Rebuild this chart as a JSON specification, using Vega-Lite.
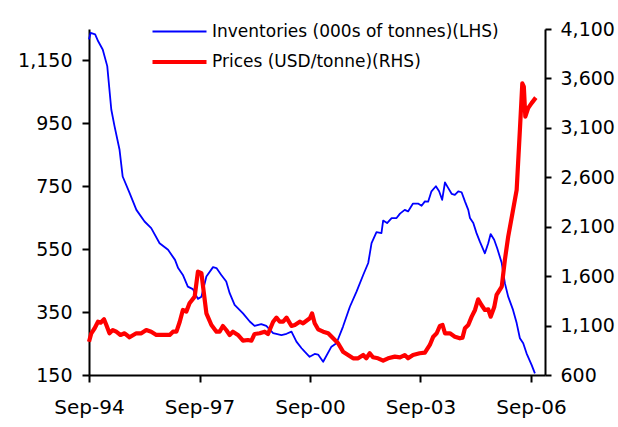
{
  "$schema": "https://vega.github.io/schema/vega-lite/v6.json",
  "width": 456,
  "height": 346,
  "autosize": {"type": "none"},
  "padding": {"left": 89, "top": 29, "right": 73, "bottom": 52},
  "background": "white",
  "config": {
    "view": {"stroke": null},
    "font": "DejaVu Sans",
    "axis": {
      "grid": false,
      "domainColor": "black",
      "domainWidth": 2,
      "tickColor": "black",
      "tickWidth": 2,
      "labelColor": "black",
      "labelFont": "DejaVu Sans",
      "title": null
    },
    "legend": {
      "orient": "none",
      "legendX": 79,
      "legendY": -7.5,
      "padding": 0,
      "symbolType": "M-3,0H3",
      "symbolSize": 324,
      "labelOffset": 21,
      "labelFontSize": 17,
      "labelFont": "DejaVu Sans",
      "labelColor": "black",
      "rowPadding": 11,
      "labelLimit": 400
    }
  },
  "datasets": {
    "inv": [
      {"d": "1994-09-01", "v": 1217}, {"d": "1994-09-17", "v": 1238}, {"d": "1994-11-01", "v": 1233},
      {"d": "1994-12-01", "v": 1211}, {"d": "1995-01-15", "v": 1185}, {"d": "1995-03-01", "v": 1132},
      {"d": "1995-04-10", "v": 994}, {"d": "1995-05-12", "v": 941}, {"d": "1995-07-01", "v": 866},
      {"d": "1995-08-01", "v": 781}, {"d": "1995-10-08", "v": 729}, {"d": "1995-12-15", "v": 675},
      {"d": "1996-03-05", "v": 638}, {"d": "1996-05-10", "v": 617}, {"d": "1996-08-01", "v": 569},
      {"d": "1996-10-24", "v": 548}, {"d": "1997-01-01", "v": 516}, {"d": "1997-02-01", "v": 490},
      {"d": "1997-03-20", "v": 468}, {"d": "1997-05-08", "v": 431}, {"d": "1997-06-27", "v": 423},
      {"d": "1997-08-16", "v": 392}, {"d": "1997-09-20", "v": 399}, {"d": "1997-11-08", "v": 463},
      {"d": "1998-01-13", "v": 493}, {"d": "1998-02-16", "v": 490}, {"d": "1998-04-05", "v": 468},
      {"d": "1998-05-24", "v": 447}, {"d": "1998-06-27", "v": 410}, {"d": "1998-08-15", "v": 373},
      {"d": "1998-11-06", "v": 346}, {"d": "1999-01-12", "v": 320}, {"d": "1999-03-01", "v": 306},
      {"d": "1999-05-06", "v": 312}, {"d": "1999-06-25", "v": 306}, {"d": "1999-09-01", "v": 283},
      {"d": "1999-11-22", "v": 277}, {"d": "2000-01-12", "v": 281}, {"d": "2000-03-01", "v": 288},
      {"d": "2000-04-19", "v": 256}, {"d": "2000-06-09", "v": 235}, {"d": "2000-07-10", "v": 224},
      {"d": "2000-08-28", "v": 208}, {"d": "2000-10-17", "v": 217}, {"d": "2000-11-20", "v": 215},
      {"d": "2001-01-09", "v": 192}, {"d": "2001-04-01", "v": 240}, {"d": "2001-05-21", "v": 251},
      {"d": "2001-07-25", "v": 304}, {"d": "2001-10-01", "v": 367}, {"d": "2001-12-06", "v": 415},
      {"d": "2002-02-10", "v": 468}, {"d": "2002-04-01", "v": 506}, {"d": "2002-05-04", "v": 569},
      {"d": "2002-06-22", "v": 604}, {"d": "2002-08-10", "v": 601}, {"d": "2002-08-27", "v": 641},
      {"d": "2002-10-05", "v": 633}, {"d": "2002-11-19", "v": 649}, {"d": "2003-01-07", "v": 649},
      {"d": "2003-02-10", "v": 663}, {"d": "2003-03-29", "v": 675}, {"d": "2003-05-01", "v": 670},
      {"d": "2003-06-19", "v": 695}, {"d": "2003-08-08", "v": 695}, {"d": "2003-09-12", "v": 688},
      {"d": "2003-10-15", "v": 702}, {"d": "2003-11-16", "v": 701}, {"d": "2003-12-19", "v": 734},
      {"d": "2004-02-01", "v": 750}, {"d": "2004-03-04", "v": 734}, {"d": "2004-04-03", "v": 707},
      {"d": "2004-05-01", "v": 762}, {"d": "2004-06-03", "v": 744}, {"d": "2004-07-06", "v": 726},
      {"d": "2004-08-07", "v": 723}, {"d": "2004-09-10", "v": 734}, {"d": "2004-10-13", "v": 731},
      {"d": "2004-11-15", "v": 702}, {"d": "2004-12-18", "v": 675}, {"d": "2005-01-04", "v": 649},
      {"d": "2005-02-06", "v": 633}, {"d": "2005-03-10", "v": 601}, {"d": "2005-04-12", "v": 574},
      {"d": "2005-06-01", "v": 537}, {"d": "2005-07-04", "v": 569}, {"d": "2005-07-28", "v": 598},
      {"d": "2005-09-01", "v": 580}, {"d": "2005-10-01", "v": 553}, {"d": "2005-11-15", "v": 506},
      {"d": "2005-12-16", "v": 442}, {"d": "2006-01-18", "v": 399}, {"d": "2006-03-07", "v": 357},
      {"d": "2006-04-12", "v": 315}, {"d": "2006-05-14", "v": 267}, {"d": "2006-06-16", "v": 251},
      {"d": "2006-07-19", "v": 219}, {"d": "2006-09-07", "v": 182}, {"d": "2006-10-10", "v": 155}
    ],
    "px": [
      {"d": "1994-09-01", "v": 937}, {"d": "1994-09-24", "v": 1022}, {"d": "1994-10-27", "v": 1073},
      {"d": "1994-11-29", "v": 1139}, {"d": "1994-12-25", "v": 1129}, {"d": "1995-01-28", "v": 1164},
      {"d": "1995-02-20", "v": 1106}, {"d": "1995-03-23", "v": 1022}, {"d": "1995-04-25", "v": 1055},
      {"d": "1995-05-29", "v": 1038}, {"d": "1995-07-10", "v": 1005}, {"d": "1995-08-20", "v": 1022},
      {"d": "1995-10-08", "v": 982}, {"d": "1995-12-14", "v": 1022}, {"d": "1996-02-02", "v": 1022},
      {"d": "1996-03-22", "v": 1055}, {"d": "1996-05-10", "v": 1038}, {"d": "1996-06-30", "v": 1005},
      {"d": "1996-09-21", "v": 1005}, {"d": "1996-11-09", "v": 1005}, {"d": "1996-12-12", "v": 1038},
      {"d": "1997-01-15", "v": 1038}, {"d": "1997-02-17", "v": 1139}, {"d": "1997-03-20", "v": 1258},
      {"d": "1997-04-23", "v": 1241}, {"d": "1997-05-25", "v": 1325}, {"d": "1997-07-15", "v": 1393},
      {"d": "1997-08-16", "v": 1645}, {"d": "1997-09-20", "v": 1629}, {"d": "1997-10-06", "v": 1494},
      {"d": "1997-11-08", "v": 1224}, {"d": "1997-12-28", "v": 1106}, {"d": "1998-02-16", "v": 1038},
      {"d": "1998-03-19", "v": 1038}, {"d": "1998-04-21", "v": 1096}, {"d": "1998-05-24", "v": 1055},
      {"d": "1998-06-27", "v": 1005}, {"d": "1998-07-29", "v": 1038}, {"d": "1998-09-17", "v": 1005},
      {"d": "1998-11-06", "v": 947}, {"d": "1998-12-25", "v": 954}, {"d": "1999-01-29", "v": 947},
      {"d": "1999-03-01", "v": 1015}, {"d": "1999-04-21", "v": 1022}, {"d": "1999-06-09", "v": 1038},
      {"d": "1999-07-12", "v": 1015}, {"d": "1999-09-01", "v": 1139}, {"d": "1999-10-04", "v": 1180},
      {"d": "1999-11-06", "v": 1139}, {"d": "1999-12-09", "v": 1139}, {"d": "2000-01-12", "v": 1180},
      {"d": "2000-03-01", "v": 1096}, {"d": "2000-04-03", "v": 1106}, {"d": "2000-05-22", "v": 1139},
      {"d": "2000-06-24", "v": 1123}, {"d": "2000-08-30", "v": 1174}, {"d": "2000-09-21", "v": 1224},
      {"d": "2000-10-17", "v": 1123}, {"d": "2000-11-20", "v": 1062}, {"d": "2001-01-09", "v": 1038},
      {"d": "2001-02-28", "v": 1022}, {"d": "2001-04-18", "v": 971}, {"d": "2001-06-06", "v": 921},
      {"d": "2001-07-25", "v": 836}, {"d": "2001-09-13", "v": 802}, {"d": "2001-11-02", "v": 769},
      {"d": "2001-12-22", "v": 769}, {"d": "2002-02-10", "v": 802}, {"d": "2002-03-13", "v": 769},
      {"d": "2002-04-16", "v": 820}, {"d": "2002-05-18", "v": 779}, {"d": "2002-07-07", "v": 769},
      {"d": "2002-08-27", "v": 745}, {"d": "2002-10-15", "v": 769}, {"d": "2002-12-21", "v": 786},
      {"d": "2003-02-10", "v": 779}, {"d": "2003-03-29", "v": 802}, {"d": "2003-05-01", "v": 769},
      {"d": "2003-06-19", "v": 802}, {"d": "2003-08-24", "v": 820}, {"d": "2003-10-15", "v": 826},
      {"d": "2003-12-03", "v": 904}, {"d": "2004-01-06", "v": 988}, {"d": "2004-02-09", "v": 1022},
      {"d": "2004-03-11", "v": 1096}, {"d": "2004-04-07", "v": 1106}, {"d": "2004-05-01", "v": 1022},
      {"d": "2004-06-19", "v": 1022}, {"d": "2004-08-07", "v": 988}, {"d": "2004-09-26", "v": 971},
      {"d": "2004-10-22", "v": 978}, {"d": "2004-11-15", "v": 1073}, {"d": "2004-12-18", "v": 1106},
      {"d": "2005-01-21", "v": 1190}, {"d": "2005-02-23", "v": 1258}, {"d": "2005-03-26", "v": 1366},
      {"d": "2005-04-28", "v": 1308}, {"d": "2005-06-01", "v": 1258}, {"d": "2005-07-04", "v": 1265},
      {"d": "2005-07-28", "v": 1190}, {"d": "2005-09-01", "v": 1285}, {"d": "2005-09-25", "v": 1410},
      {"d": "2005-11-15", "v": 1494}, {"d": "2005-12-16", "v": 1764}, {"d": "2006-01-18", "v": 2000},
      {"d": "2006-03-01", "v": 2236}, {"d": "2006-04-12", "v": 2472}, {"d": "2006-05-14", "v": 3079},
      {"d": "2006-06-07", "v": 3550}, {"d": "2006-06-22", "v": 3518}, {"d": "2006-07-07", "v": 3214},
      {"d": "2006-08-04", "v": 3299}, {"d": "2006-09-07", "v": 3350}, {"d": "2006-10-19", "v": 3406}
    ]
  },
  "layer": [
    {
      "data": {"name": "inv"},
      "mark": {"type": "line", "strokeJoin": "round"},
      "encoding": {
        "x": {
          "field": "d", "type": "temporal",
          "scale": {"type": "utc", "domain": [{"year": 1994, "month": 9, "date": 1, "utc": true}, {"year": 2007, "month": 1, "date": 18, "utc": true}]},
          "axis": {
            "values": [
              {"year": 1994, "month": 9, "date": 1, "utc": true},
              {"year": 1997, "month": 9, "date": 1, "utc": true},
              {"year": 2000, "month": 9, "date": 1, "utc": true},
              {"year": 2003, "month": 9, "date": 1, "utc": true},
              {"year": 2006, "month": 9, "date": 1, "utc": true}
            ],
            "format": "%b-%y",
            "labelFontSize": 20,
            "tickSize": 7,
            "labelPadding": 15,
            "labelFlush": false,
            "labelOverlap": false
          }
        },
        "y": {
          "field": "v", "type": "quantitative",
          "scale": {"domain": [150, 1250], "nice": false, "zero": false},
          "axis": {"orient": "left", "values": [150, 350, 550, 750, 950, 1150], "format": ",.0f", "labelFontSize": 19, "tickSize": 7, "labelPadding": 10}
        },
        "color": {"datum": "Inventories (000s of tonnes)(LHS)", "type": "nominal",
          "scale": {"domain": ["Inventories (000s of tonnes)(LHS)", "Prices (USD/tonne)(RHS)"], "range": ["#0000FF", "#FF0000"]},
          "legend": {"title": null}},
        "strokeWidth": {"datum": "Inventories (000s of tonnes)(LHS)", "type": "nominal",
          "scale": {"domain": ["Inventories (000s of tonnes)(LHS)", "Prices (USD/tonne)(RHS)"], "range": [1.8, 4.2]},
          "legend": {"title": null}}
      }
    },
    {
      "data": {"name": "px"},
      "mark": {"type": "line", "strokeJoin": "round"},
      "encoding": {
        "x": {"field": "d", "type": "temporal"},
        "y": {
          "field": "v", "type": "quantitative",
          "scale": {"domain": [600, 4100], "nice": false, "zero": false},
          "axis": {"orient": "right", "values": [600, 1100, 1600, 2100, 2600, 3100, 3600, 4100], "format": ",.0f", "labelFontSize": 19, "tickSize": 6, "labelPadding": 9}
        },
        "color": {"datum": "Prices (USD/tonne)(RHS)", "type": "nominal"},
        "strokeWidth": {"datum": "Prices (USD/tonne)(RHS)", "type": "nominal"}
      }
    }
  ],
  "resolve": {"scale": {"y": "independent"}}
}
